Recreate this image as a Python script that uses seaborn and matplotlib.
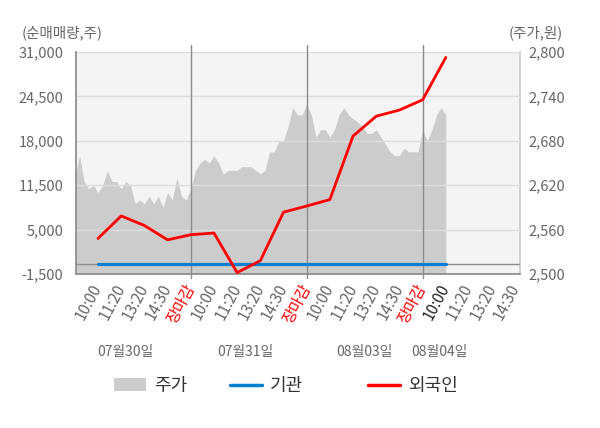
import matplotlib
matplotlib.use("Agg")
import numpy as np
import matplotlib.pyplot as plt
import seaborn as sns
from matplotlib.patches import Patch
from matplotlib.lines import Line2D

# ---------------- DATA ---------------- #
tick_labels = ['10:00', '11:20', '13:20', '14:30', '장마감'] * 3 + ['10:00', '11:20', '13:20', '14:30']
date_labels = ['07월30일', '07월31일', '08월03일', '08월04일']

# net buying (shares), one point per tick from 07/30 10:00 to 08/04 10:00
foreign = [3700, 7000, 5600, 3500, 4250, 4500, -1300, 450, 7550, 8450,
           9400, 18700, 21600, 22500, 24000, 30200]
institution = [0] * 16

# intraday price (won), sampled every 0.2 tick from the start of each day
price_day1 = [2630, 2660, 2625, 2615, 2620, 2610, 2620, 2640, 2625, 2625, 2615, 2625, 2620,
              2595, 2600, 2595, 2605, 2595, 2605, 2590, 2610, 2600, 2630, 2605, 2600]
price_day2 = [2615, 2640, 2650, 2655, 2650, 2660, 2650, 2635, 2640, 2640, 2640, 2645, 2645,
              2645, 2640, 2635, 2640, 2665, 2665, 2680, 2680, 2700, 2725, 2715, 2715]
price_day3 = [2730, 2715, 2685, 2695, 2695, 2685, 2695, 2715, 2725, 2715, 2710, 2705, 2700,
              2690, 2690, 2695, 2685, 2675, 2665, 2660, 2660, 2670, 2665, 2665, 2665]
price_day4 = [2695, 2680, 2695, 2715, 2725, 2715]

left_ticks = [-1500, 5000, 11500, 18000, 24500, 31000]
right_ticks = [2500, 2560, 2620, 2680, 2740, 2800]

# ---------------- STYLE ---------------- #
sns.set_theme(style="white")
plt.rcParams['font.family'] = ['Noto Sans CJK KR', 'DejaVu Sans']

fig = plt.figure(figsize=(6, 4.28), dpi=100)
ax2 = fig.add_axes([76 / 600, 1 - 274 / 428, 444 / 600, 222 / 428])
ax = ax2.twinx()
ax.xaxis.set_visible(True)
ax.yaxis.tick_left()
ax2.yaxis.tick_right()
ax.set_zorder(ax2.get_zorder() + 1)
ax.patch.set_visible(False)
ax2.set_facecolor('#f4f4f4')

# price area
price_days = [price_day1, price_day2, price_day3, price_day4]
xs_price = np.concatenate([5 * d - 1 + 0.2 * np.arange(len(p)) for d, p in enumerate(price_days)])
ys_price = np.concatenate(price_days)
ax2.fill_between(xs_price, ys_price, 2500, color='#cccccc', lw=0)
ax2.set_ylim(2500, 2800)
ax2.set_yticks(right_ticks)
ax2.set_yticklabels([f'{v:,}' for v in right_ticks])

# lines
xs = np.arange(len(foreign))
ax.yaxis.grid(True, color='#dcdcdc', lw=1)
ax.axhline(0, color='#8c8c8c', lw=1, zorder=1)
for d in [4, 9, 14]:
    ax.axvline(d, ymin=-0.02, ymax=1.03, color='#8c8c8c', lw=1, clip_on=False, zorder=1)
sns.lineplot(x=xs, y=institution, ax=ax, color='#0a7fd2', lw=2.3, zorder=3)
sns.lineplot(x=xs, y=foreign, ax=ax, color='#ff0000', lw=2, zorder=4)

ax.set_ylim(-1500, 31000)
ax.set_yticks(left_ticks)
ax.set_yticklabels([f'{v:,}' for v in left_ticks])
ax.set_xlim(-0.95, 18.2)
ax.set_xticks(range(len(tick_labels)))
ax.set_xticklabels(tick_labels, rotation=62, ha='right', va='center', rotation_mode='anchor')
for i, t in enumerate(ax.get_xticklabels()):
    if t.get_text() == '장마감':
        t.set_color('red')
    elif i == 15:
        t.set_color('#222222')
    else:
        t.set_color('#666666')

ax.tick_params(axis='x', length=0, pad=8, labelsize=11, labelbottom=True, bottom=True)
ax.tick_params(axis='y', length=0, pad=9, labelsize=10.5, labelcolor='#666666')
ax2.tick_params(axis='y', length=0, pad=6, labelsize=10.5, labelcolor='#666666')
ax2.tick_params(axis='x', length=0, labelbottom=False)

for s in ['top', 'right']:
    ax.spines[s].set_visible(False)
for s in ['left', 'bottom']:
    ax.spines[s].set_color('#8c8c8c')
for s in ['top', 'left', 'bottom']:
    ax2.spines[s].set_visible(False)
ax2.spines['right'].set_color('#cccccc')

# date labels
date_pos = [1.16, 6.34, 11.5, 14.74]
for xp, lab in zip(date_pos, date_labels):
    ax.text(xp, -0.351, lab, transform=ax.get_xaxis_transform(), ha='center', va='center',
            fontsize=10, color='#666666')

# axis titles
fig.text(22 / 600, 1 - 33 / 428, '(순매매량,주)', ha='left', va='center', fontsize=10.5, color='#666666')
fig.text(509 / 600, 1 - 33 / 428, '(주가,원)', ha='left', va='center', fontsize=10.5, color='#666666')

# legend
items = [
    (Patch(facecolor='#cccccc', edgecolor='none'), '주가', 114),
    (Line2D([], [], color='#0a7fd2', lw=2.5), '기관', 230),
    (Line2D([], [], color='#ff0000', lw=2.5), '외국인', 368),
]
for h, lab, xpix in items:
    fig.legend([h], [lab], loc='center left', bbox_to_anchor=(xpix / 600, 1 - 386 / 428),
               frameon=False, fontsize=13, handlelength=1.75, handletextpad=0.45,
               borderpad=0, borderaxespad=0, labelcolor='#333333')

fig.savefig('out.png', dpi=100)
